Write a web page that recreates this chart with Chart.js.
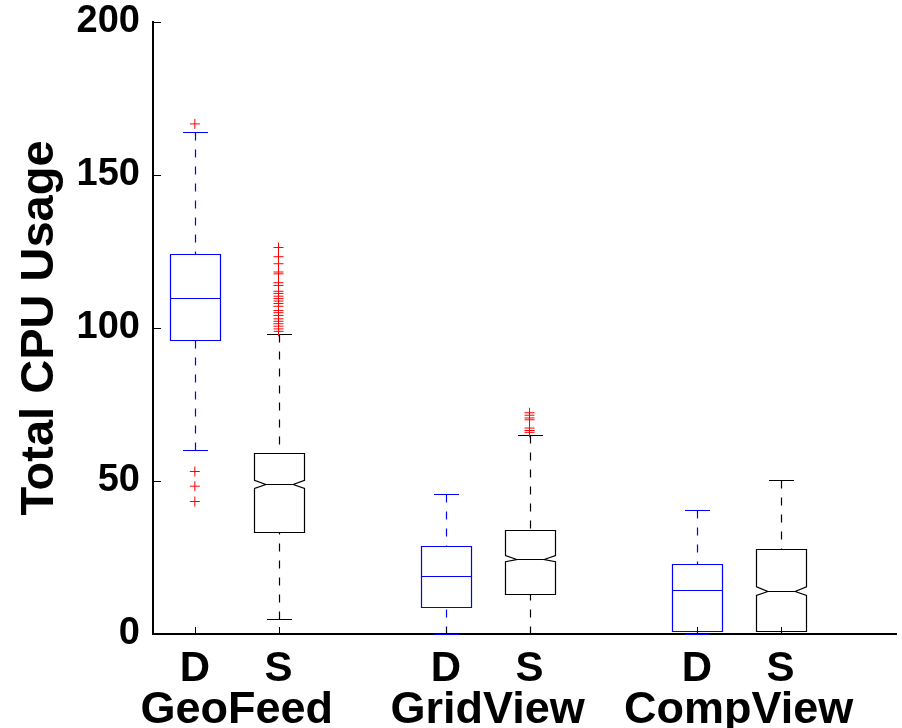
<!DOCTYPE html>
<html><head><meta charset="utf-8">
<script src="https://cdn.jsdelivr.net/npm/chart.js@4/dist/chart.umd.min.js"></script>
<style>html,body{margin:0;padding:0;background:#fff;overflow:hidden}</style>
</head><body>
<canvas id="c" width="902" height="728"></canvas>
<script>
// ---- data ----
const boxLabels   = ['D','S','D','S','D','S'];
const groupLabels = ['GeoFeed','GridView','CompView'];
const yTicks      = [0,50,100,150,200];
const whiskerLow  = [60.0,  5.0,  0.0,  0.0,  0.1,  0.0];
const q1          = [96.0, 33.4,  8.9, 13.2,  1.0,  1.0];
const medians     = [109.8,48.9, 18.8, 24.6, 14.4, 14.0];
const q3          = [124.3,59.3, 28.7, 33.9, 22.9, 27.7];
const whiskerHigh = [164.2,98.0, 45.9, 65.0, 40.4, 50.4];
const notchLow    = [null, 47.6, null, 23.6, null, 12.6];
const notchHigh   = [null, 50.2, null, 25.6, null, 15.4];
const outliersD1 = [166.7, 53.1, 48.3, 43.3];
const outliersS1 = [126.3,123.3,121.0,118.3,117.7,114.8,113.9,112.0,111.3,110.4,109.6,108.8,108.0,107.1,105.7,105.0,104.1,103.0,102.2,101.4,100.6,99.7,98.9];
const outliersD2 = [];
const outliersS2 = [72.3,71.5,70.6,70.0,67.3,66.5,65.9];
const outliersD3 = [];
const outliersS3 = [];
const outliers = [outliersD1,outliersS1,outliersD2,outliersS2,outliersD3,outliersS3];

// ---- helpers / styles ----
const pos = i => Math.floor(i/2)*3 + (i%2) + 1;
const positions = boxLabels.map((_,i)=>pos(i));
const groupPositions = groupLabels.map((_,g)=>g*3+1.5);
const BOX_HALF = 0.31, CAP_HALF = 0.155, NOTCH_IN = 0.135;
const BLUE = '#0000ff', BLACK = '#000000', RED = '#ff0000';
const FONT = '"Liberation Sans", Arial, Helvetica, sans-serif';

const outlierData = [];
outliers.forEach((arr,i)=>arr.forEach(v=>outlierData.push({x:pos(i), y:v})));

const boxPlugin = {
  id:'boxes',
  beforeDatasetsDraw(chart){
    const {ctx, scales:{x,y}} = chart;
    ctx.save();
    ctx.lineWidth = 1.2;
    for(let i=0;i<boxLabels.length;i++){
      const col = boxLabels[i]==='D' ? BLUE : BLACK;
      ctx.strokeStyle = col;
      const cx = Math.round(x.getPixelForValue(pos(i)))+0.5;
      const hw = x.getPixelForValue(pos(i)+BOX_HALF) - x.getPixelForValue(pos(i));
      const cw = x.getPixelForValue(pos(i)+CAP_HALF) - x.getPixelForValue(pos(i));
      const ni = x.getPixelForValue(pos(i)+NOTCH_IN) - x.getPixelForValue(pos(i));
      const L = Math.round(cx-hw)+0.5, R = Math.round(cx+hw)-0.5;
      const yq1 = Math.round(y.getPixelForValue(q1[i]))+0.5;
      const yq3 = Math.round(y.getPixelForValue(q3[i]))+0.5;
      const ym  = Math.round(y.getPixelForValue(medians[i]))+0.5;
      const ywl = Math.round(y.getPixelForValue(whiskerLow[i]))+0.5;
      const ywh = Math.round(y.getPixelForValue(whiskerHigh[i]))+0.5;
      // whiskers
      ctx.setLineDash([8,9]);
      ctx.beginPath();
      ctx.moveTo(cx, ywh); ctx.lineTo(cx, yq3);
      ctx.moveTo(cx, ywl); ctx.lineTo(cx, yq1);
      ctx.stroke();
      ctx.setLineDash([]);
      // caps
      ctx.beginPath();
      ctx.moveTo(Math.round(cx-cw), ywh); ctx.lineTo(Math.round(cx+cw), ywh);
      ctx.moveTo(Math.round(cx-cw), ywl); ctx.lineTo(Math.round(cx+cw), ywl);
      ctx.stroke();
      // box
      ctx.beginPath();
      if(notchLow[i]!==null){
        const nh = y.getPixelForValue(notchHigh[i]);
        const nl = y.getPixelForValue(notchLow[i]);
        ctx.moveTo(L, yq3); ctx.lineTo(R, yq3); ctx.lineTo(R, nh);
        ctx.lineTo(R-ni, ym); ctx.lineTo(R, nl); ctx.lineTo(R, yq1);
        ctx.lineTo(L, yq1); ctx.lineTo(L, nl); ctx.lineTo(L+ni, ym);
        ctx.lineTo(L, nh); ctx.closePath();
        ctx.moveTo(L+ni, ym); ctx.lineTo(R-ni, ym);
      } else {
        ctx.rect(L, yq3, R-L, yq1-yq3);
        ctx.moveTo(L, ym); ctx.lineTo(R, ym);
      }
      ctx.stroke();
    }
    ctx.restore();
  },
  afterDraw(chart){
    const {ctx, scales:{x,y}, chartArea:a} = chart;
    ctx.save();
    ctx.strokeStyle = BLACK; ctx.lineWidth = 1;
    ctx.beginPath();
    yTicks.forEach(v=>{
      const py = Math.round(y.getPixelForValue(v))+0.5;
      ctx.moveTo(a.left, py); ctx.lineTo(a.left+8, py);
    });
    positions.forEach(v=>{
      const px = Math.round(x.getPixelForValue(v))+0.5;
      ctx.moveTo(px, a.bottom); ctx.lineTo(px, a.bottom-7);
    });
    ctx.stroke();
    ctx.restore();
  }
};

new Chart(document.getElementById('c'), {
  type:'scatter',
  data:{datasets:[{
    label:'outliers', data:outlierData,
    pointStyle:'cross', pointRadius:5, pointHoverRadius:5,
    borderColor:RED, backgroundColor:RED, borderWidth:1
  }]},
  options:{
    responsive:false, animation:false, devicePixelRatio:1,
    layout:{padding:{left:0, right:2, top:22, bottom:0}},
    plugins:{legend:{display:false}, tooltip:{enabled:false}},
    scales:{
      x:{
        type:'linear', position:'bottom', min:0.5, max:9.38, weight:0,
        grid:{display:false, drawTicks:false},
        border:{display:true, color:BLACK, width:2},
        afterBuildTicks: s => { s.ticks = positions.map(v=>({value:v})); },
        ticks:{autoSkip:false, maxRotation:0, color:BLACK, padding:10,
          font:{family:FONT, weight:'bold', size:42},
          callback:(v,idx)=>boxLabels[idx]},
        afterFit: s => { s.height = 50; s.paddingLeft = 0; s.paddingRight = 0; }
      },
      x2:{
        type:'linear', position:'bottom', min:0.5, max:9.38, weight:1,
        grid:{display:false, drawTicks:false},
        border:{display:false},
        afterBuildTicks: s => { s.ticks = groupPositions.map(v=>({value:v})); },
        ticks:{autoSkip:false, maxRotation:0, color:BLACK, padding:0,
          font:{family:FONT, weight:'bold', size:45},
          callback:(v,idx)=>groupLabels[idx]},
        afterFit: s => { s.height = 44; s.paddingLeft = 0; s.paddingRight = 0; }
      },
      y:{
        type:'linear', min:0, max:200,
        grid:{display:false, drawTicks:false},
        border:{display:true, color:BLACK, width:2},
        afterBuildTicks: s => { s.ticks = yTicks.map(v=>({value:v})); },
        ticks:{color:BLACK, padding:13, font:{family:FONT, weight:'bold', size:38}},
        title:{display:true, text:'Total CPU Usage', color:BLACK, padding:{top:12,bottom:0},
          font:{family:FONT, weight:'bold', size:47}},
        afterFit: s => { s.width = 153; s.paddingTop = 0; s.paddingBottom = 0; }
      }
    }
  },
  plugins:[boxPlugin]
});
</script>
</body></html>
